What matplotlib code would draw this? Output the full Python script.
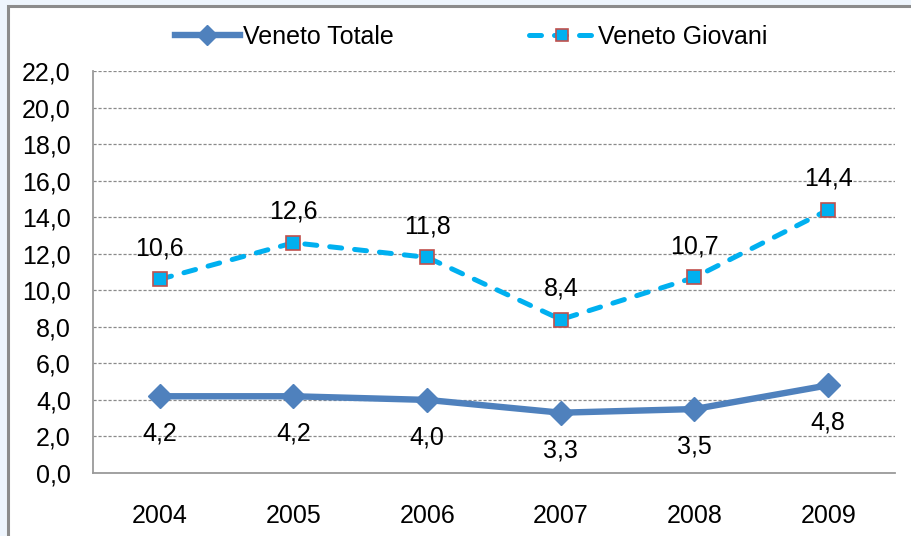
import matplotlib
matplotlib.use("Agg")
import matplotlib.pyplot as plt
from matplotlib.patches import Rectangle

years = ["2004", "2005", "2006", "2007", "2008", "2009"]
totale = [4.2, 4.2, 4.0, 3.3, 3.5, 4.8]
giovani = [10.6, 12.6, 11.8, 8.4, 10.7, 14.4]
yticks = [0, 2, 4, 6, 8, 10, 12, 14, 16, 18, 20, 22]


def fmt(v):
    return f"{v:.1f}".replace(".", ",")


plt.rcParams["font.family"] = ["Liberation Sans", "DejaVu Sans"]
FS = 18

fig = plt.figure(figsize=(9.11, 5.36), dpi=100, facecolor="#EEF5FD")
fig.patches.append(Rectangle((7.5 / 911, -0.05), 1.0, 0.05 + 529.5 / 536,
                             transform=fig.transFigure, facecolor="white",
                             edgecolor="#8C8C8C", linewidth=2.2, zorder=0))
ax = fig.add_axes([93 / 911, 63 / 536, 802 / 911, 402 / 536])
ax.set_zorder(2)
ax.set_facecolor("none")

x = range(len(years))
ax.plot(x, totale, color="#4F81BD", linewidth=4.6, marker="D",
        markersize=12.5, label="Veneto Totale", zorder=3)
ax.plot(x, giovani, color="#00B0F0", linewidth=3.6, linestyle=(0, (2.4, 2.6)),
        dash_capstyle="round", marker="s", markersize=10.5,
        markerfacecolor="#00B0F0", markeredgecolor="#C0504D",
        markeredgewidth=1.2, label="Veneto Giovani", zorder=4)

for i, v in enumerate(giovani):
    ax.annotate(fmt(v), (i, v), xytext=(0, 22.5), textcoords="offset points",
                ha="center", va="center", fontsize=FS)
for i, v in enumerate(totale):
    ax.annotate(fmt(v), (i, v), xytext=(0, -27), textcoords="offset points",
                ha="center", va="center", fontsize=FS)

ax.set_xlim(-0.5, len(years) - 0.5)
ax.set_ylim(0, 22)
ax.set_xticks(list(x))
ax.set_xticklabels(years)
ax.set_yticks(yticks)
ax.set_yticklabels([fmt(t) for t in yticks])
ax.tick_params(length=0, labelsize=FS, pad=16)
ax.tick_params(axis="x", pad=22)
ax.yaxis.grid(True, color="#8A8A8A", linestyle=(0, (2.5, 1.5)), linewidth=0.9)
ax.set_axisbelow(True)
for s in ["top", "right"]:
    ax.spines[s].set_visible(False)
for s in ["left", "bottom"]:
    ax.spines[s].set_color("#9A9A9A")
    ax.spines[s].set_linewidth(1.3)

fig.legend(loc="center", bbox_to_anchor=(0.517, 0.931), ncol=2, frameon=False,
           fontsize=FS, handlelength=2.6, handletextpad=0.15, columnspacing=5.4,
           markerscale=0.8)

fig.savefig("out.png", dpi=100, facecolor=fig.get_facecolor())
